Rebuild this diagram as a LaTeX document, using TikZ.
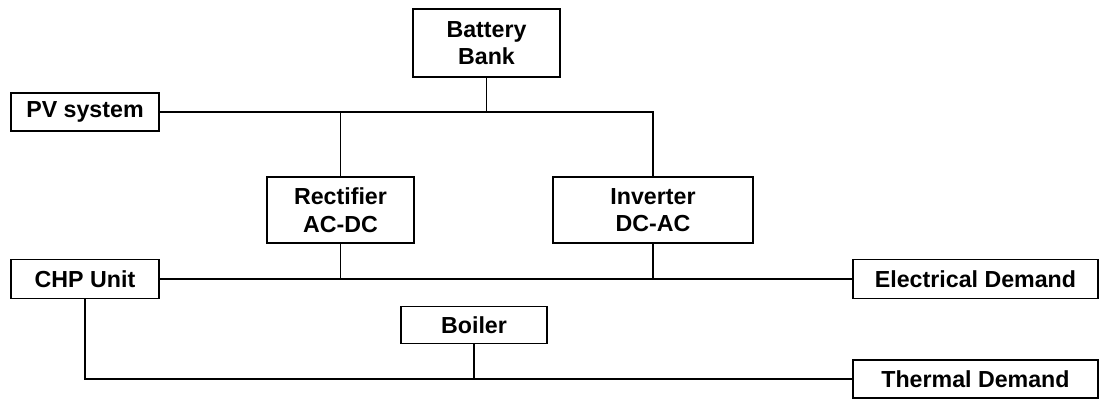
\documentclass[tikz,border=0pt]{standalone}
\usepackage{fontspec}
\setmainfont{Liberation Sans}
\usetikzlibrary{calc}

\begin{document}
\begin{tikzpicture}[x=0.025cm,y=-0.025cm,line width=1.4pt,
  unit/.style={draw,inner sep=0pt,align=center,
    font=\fontsize{16.5}{19.5}\selectfont\bfseries}]
  \useasboundingbox (0,0) rectangle (1100,400);
  \node[unit,minimum width=3.675cm,minimum height=1.7cm]   (bat)   at (486.5,43)  {Battery\\Bank};
  \node[unit,minimum width=3.7cm,minimum height=0.95cm]    (pv)    at (85,112)    {PV system};
  \node[unit,minimum width=3.675cm,minimum height=1.65cm]  (rect)  at (340.5,210) {Rectifier\\AC-DC};
  \node[unit,minimum width=5cm,minimum height=1.65cm]      (inv)   at (653,210)   {Inverter\\DC-AC};
  \node[unit,minimum width=3.7cm,minimum height=0.975cm]   (chp)   at (85,279)    {CHP Unit};
  \node[unit,minimum width=6.125cm,minimum height=0.975cm] (elec)  at (975.5,279) {Electrical Demand};
  \node[unit,minimum width=3.65cm,minimum height=0.925cm]  (boil)  at (474,325)   {Boiler};
  \node[unit,minimum width=6.125cm,minimum height=0.95cm]  (therm) at (975.5,379) {Thermal Demand};
  % DC bus
  \draw (pv.east) -| (inv.north);
  \draw (bat.south) -- (bat.south |- pv.east);
  \draw (rect.north) -- (rect.north |- pv.east);
  % AC bus
  \draw (chp.east) -- (elec.west);
  \draw (rect.south) -- (rect.south |- chp.east);
  \draw (inv.south) -- (inv.south |- chp.east);
  % heat
  \draw (chp.south) |- (therm.west);
  \draw (boil.south) -- (boil.south |- therm.west);
\end{tikzpicture}
\end{document}
